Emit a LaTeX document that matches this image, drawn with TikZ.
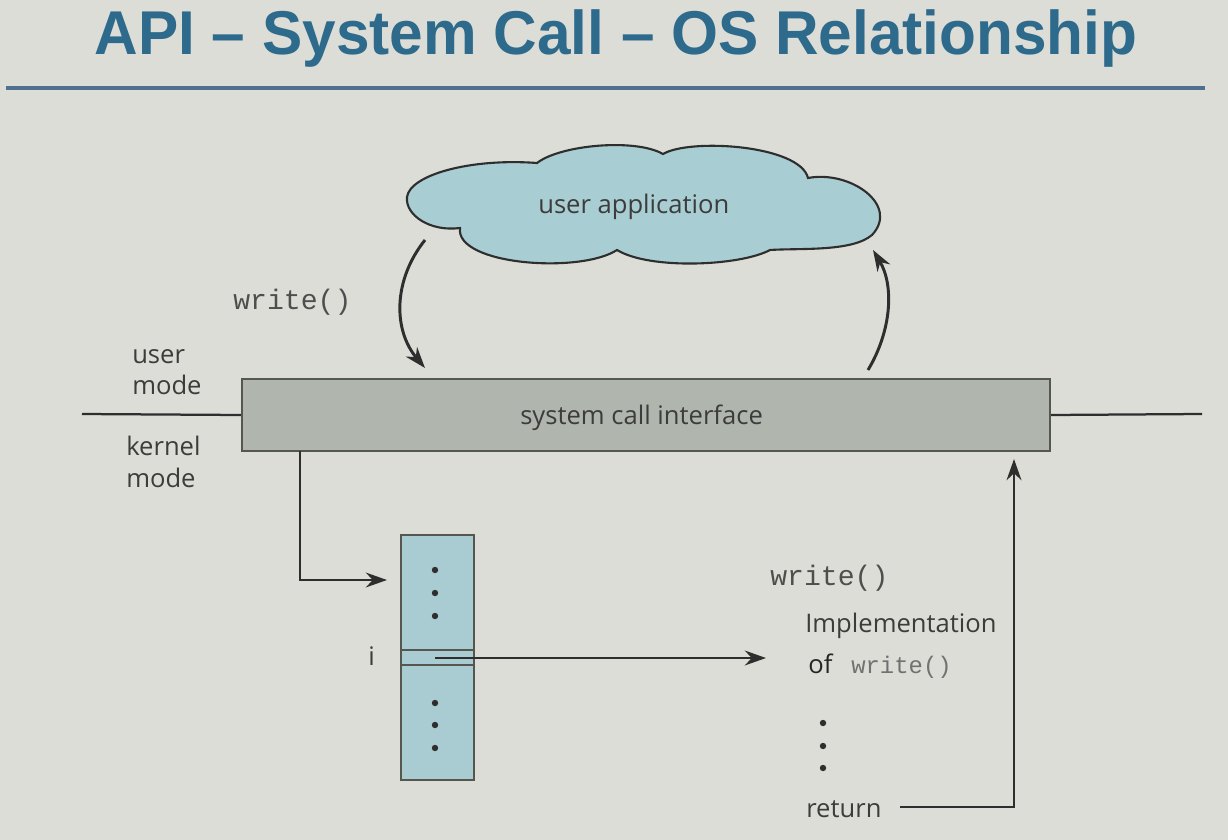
\documentclass[tikz,border=0pt]{standalone}
\usepackage{fontspec}
\setmainfont{Open Sans}
\setmonofont{Liberation Mono}
\newfontfamily\titlefont{Liberation Sans}
\usetikzlibrary{arrows.meta}
\definecolor{bg}{HTML}{DCDDD6}
\definecolor{titleblue}{HTML}{2D6A8B}
\definecolor{rulecol}{HTML}{4F7090}
\definecolor{cloudfill}{HTML}{A8CDD2}
\definecolor{tabfill}{HTML}{A9CCD2}
\definecolor{boxfill}{HTML}{B0B5AE}
\definecolor{boxline}{HTML}{55574F}
\definecolor{txt}{HTML}{3C3C3C}
\definecolor{monotxt}{HTML}{4E4E4E}
\definecolor{lnk}{HTML}{2E2E2E}
\begin{document}
\begin{tikzpicture}[x=0.025cm,y=-0.025cm,
  lbl/.style={anchor=base west,inner sep=0pt,text=txt,font=\fontsize{18.2}{22}\selectfont},
  mono/.style={anchor=base west,inner sep=0pt,text=monotxt,font=\ttfamily\fontsize{20}{24}\selectfont},
  arr/.style={draw=lnk,line width=2.1pt,-{Stealth[length=15pt,width=10.5pt]}},
  ln/.style={draw=lnk,line width=1.6pt},
  dot/.style={fill=lnk}]
\useasboundingbox[fill=bg] (0,0) rectangle (1228,840);
% title
\node[anchor=base,inner sep=0pt,text=titleblue,font=\titlefont\bfseries\fontsize{44}{50}\selectfont,xscale=0.975] (title) at (616,55) {API – System Call – OS Relationship};
\draw[rulecol,line width=2.4pt] (6,88) -- (1205,88);
% cloud
\draw[fill=cloudfill,draw=lnk,line width=1.5pt]
 (460,228) .. controls (430,232) and (405,215) .. (407,197)
 .. controls (410,175) and (470,158) .. (537,163)
 .. controls (560,145) and (635,138) .. (663,154)
 .. controls (690,138) and (800,145) .. (808,178)
 .. controls (850,170) and (900,205) .. (872,235)
 .. controls (852,252) and (800,248) .. (770,250)
 .. controls (740,266) and (650,270) .. (617,250)
 .. controls (580,274) and (455,265) .. (460,228) -- cycle;
\node[lbl] (app) at (538,213) {user application};
% system call interface
\node[draw=boxline,fill=boxfill,line width=1.5pt,minimum width=20.2cm,minimum height=1.8cm,inner sep=0pt] (sci) at (646,415) {};
\node[lbl] (scit) at (520,424) {system call interface};
\draw[ln] (82,414) -- (sci.west);
\draw[ln] (sci.east) -- (1202,414);
\node[lbl] (um1) at (132,363) {user};
\node[lbl] (um2) at (132,394) {mode};
\node[lbl] (km1) at (126,455) {kernel};
\node[lbl] (km2) at (126,487) {mode};
% write() call arrows
\node[mono] (w1) at (233,309) {write()};
\draw[arr] (425,240) .. controls (393,280) and (393,330) .. (425,368);
\draw[arr] (868,370) .. controls (892,330) and (894,285) .. (873,250);
% table
\node[draw=boxline,fill=tabfill,line width=1.5pt,minimum width=1.825cm,minimum height=6.125cm,inner sep=0pt] (tab) at (437.5,657.5) {};
\draw[draw=boxline,line width=1.5pt] (tab.west |- 0,650) -- (tab.east |- 0,650);
\draw[draw=boxline,line width=1.5pt] (tab.west |- 0,665) -- (tab.east |- 0,665);
\foreach \yy in {570,593,616,703,725,748}
  \fill[dot] (435,\yy) circle (0.08cm);
\node[lbl] (ilbl) at (368,665) {i};
\coordinate (dstart) at (300,451);
\coordinate (dend) at (387,580);
\draw[arr] (dstart) |- (dend);
\coordinate (istart) at (435,658);
\coordinate (iend) at (766,658);
\draw[arr] (istart) -- (iend);
% implementation
\node[mono] (w2) at (770,585) {write()};
\node[lbl] (impl) at (805,632) {Implementation};
\node[lbl,text=black!85] (of) at (808,673) {of};
\node[mono,text=monotxt!80,font=\ttfamily\fontsize{17}{20}\selectfont] (w3) at (851,673) {write()};
\foreach \yy in {723,746,768}
  \fill[dot] (823,\yy) circle (0.08cm);
\node[lbl] (ret) at (806,817) {return};
\coordinate (rstart) at (900,807);
\coordinate (rend) at (1014,459);
\draw[arr] (rstart) -| (rend);
\end{tikzpicture}
\end{document}
